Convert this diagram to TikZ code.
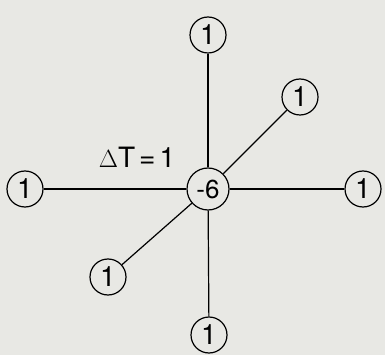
\documentclass[tikz,border=0pt]{standalone}
\usepackage{fontspec}
\setmainfont{TeX Gyre Heros}
\begin{document}
\begin{tikzpicture}[x=1pt,y=-1pt,
  leaf/.style={circle,draw,line width=1.2pt,minimum size=36pt,inner sep=0pt,font=\fontsize{28}{30}\selectfont},
  hub/.style={circle,draw,line width=1.2pt,minimum size=42pt,inner sep=0pt,font=\fontsize{26}{28}\selectfont},
  link/.style={line width=1.2pt}]
\fill[fill={rgb,255:red,232;green,232;blue,228}] (0,0) rectangle (385,355);
\useasboundingbox (0,0) rectangle (385,355);
\node[hub] (c) at (208,189) {-6};
\node[leaf] (t) at (208,35) {1};
\node[leaf] (ur) at (300,97) {1};
\node[leaf] (l) at (25,189) {1};
\node[leaf] (r) at (363,189) {1};
\node[leaf] (ll) at (108,277) {1};
\node[leaf] (b) at (209,335) {1};
\node[font=\fontsize{28}{30}\selectfont] (lbl) at (137,157) {$\Delta$T\hspace{4pt}=\hspace{4pt}1};
\foreach \n in {t,ur,l,r,ll,b} \draw[link] (c) -- (\n);
\end{tikzpicture}
\end{document}
